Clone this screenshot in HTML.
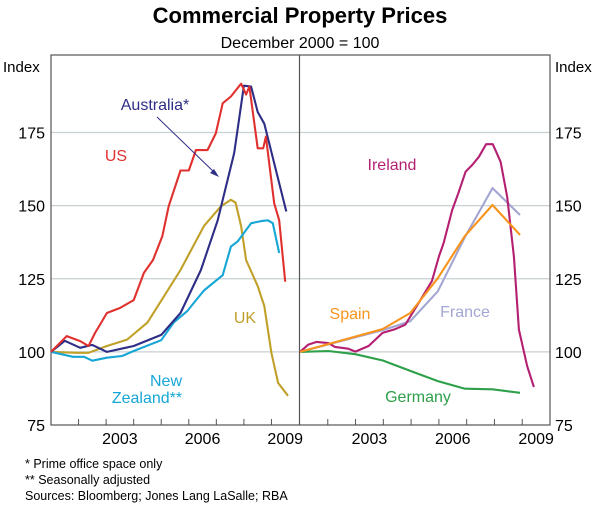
<!DOCTYPE html>
<html><head><meta charset="utf-8"><style>
body{margin:0;background:#fff;font-family:"Liberation Sans",Arial,sans-serif}
svg{display:block}
</style></head><body>
<svg id="chart" width="600" height="505" viewBox="0 0 600 505" font-family="Liberation Sans, Arial, sans-serif">
<text x="300" y="23" text-anchor="middle" font-size="22" font-weight="bold">Commercial Property Prices</text>
<text x="300" y="48" text-anchor="middle" font-size="16">December 2000 = 100</text>
<text x="3" y="72" font-size="15">Index</text>
<text x="555" y="72" font-size="15">Index</text>
<g id="grid"></g><g id="axes"></g><g id="series"></g>
<text x="155" y="110" text-anchor="middle" font-size="16" fill="#2e2e86">Australia*</text>
<line x1="157" y1="117" x2="216" y2="174" stroke="#2e2e86" stroke-width="1"/>
<polygon points="219,177 210,173 214,169" fill="#2e2e86"/>
<text x="116" y="161" text-anchor="middle" font-size="16" fill="#e0312f">US</text>
<text x="245" y="323" text-anchor="middle" font-size="16" fill="#c0a029">UK</text>
<text x="166" y="386" text-anchor="middle" font-size="16" fill="#16a6d6">New</text>
<text x="147" y="403" text-anchor="middle" font-size="16" fill="#16a6d6">Zealand**</text>
<text x="392" y="170" text-anchor="middle" font-size="16" fill="#b51f72">Ireland</text>
<text x="350" y="319" text-anchor="middle" font-size="16" fill="#f7941d">Spain</text>
<text x="465" y="317" text-anchor="middle" font-size="16" fill="#a3a6d2">France</text>
<text x="418" y="402" text-anchor="middle" font-size="16" fill="#2ea04a">Germany</text>
<text x="25" y="468" font-size="12.5">*   Prime office space only</text>
<text x="25" y="484" font-size="12.5">**  Seasonally adjusted</text>
<text x="25" y="500" font-size="12.5">Sources: Bloomberg; Jones Lang LaSalle; RBA</text>
</svg>
<script>
const yTicks=[75,100,125,150,175];
const xTickLabels=["2003","2006","2009"];
const xLabelYears=[2003,2006,2009];
const usYears=[2001,2001.57,2002.06,2002.36,2002.6,2003.03,2003.5,2004.0,2004.37,2004.7,2005.04,2005.27,2005.7,2006.0,2006.26,2006.68,2006.98,2007.23,2007.53,2007.9,2008.08,2008.2,2008.5,2008.7,2008.8,2009.1,2009.28,2009.5];
const usValues=[100,105.4,103.7,102,106.5,113.3,115,117.7,127,131.4,139.5,149.8,162,162,169,169,174.7,185,187.3,191.7,188,190.7,169.6,169.6,173.6,150.8,145,124];
const ausYears=[2001,2001.5,2002.06,2002.5,2003.03,2004,2005,2005.7,2006.44,2007.05,2007.65,2008.0,2008.26,2008.5,2008.74,2009.54];
const ausValues=[100,103.8,101.4,102.4,100,102,105.8,113.3,128,145,168,191,190.7,182,178,148];
const ukYears=[2001,2001.94,2002.36,2003.03,2003.76,2004.5,2005.1,2005.7,2006.55,2007.17,2007.53,2007.7,2007.9,2008.08,2008.5,2008.74,2009.0,2009.24,2009.6];
const ukValues=[100,99.7,99.7,102,104.2,110,119,128,143,149.8,152,151,143,131.4,122.5,115.7,99.7,89.4,85];
const nzYears=[2001,2001.8,2002.2,2002.5,2003.03,2003.58,2004.0,2005,2005.45,2005.95,2006.55,2007.23,2007.53,2007.78,2008.26,2008.63,2008.87,2009.05,2009.28];
const nzValues=[100,98.3,98.3,97,98,98.6,100.3,104,110,114,121,126.2,136,137.8,144,144.7,145,144,133.8];
const ieYears=[2001,2001.3,2001.6,2002.02,2002.26,2002.74,2002.99,2003.47,2003.97,2004.43,2004.79,2005.27,2005.75,2006.0,2006.17,2006.48,2006.7,2006.96,2007.2,2007.44,2007.7,2007.94,2008.22,2008.46,2008.7,2008.88,2009.18,2009.42];
const ieValues=[100,102.5,103.4,103,101.7,101.1,100.1,102,106.5,107.8,109.3,116.7,124.2,132.6,137.2,148.5,154.2,161.6,163.9,166.7,171,171,165,153,132.6,107.6,95.1,88];
const quarterlyYears=[2001,2003.97,2004.97,2005.96,2006.94,2007.93,2008.92];
const esValues=[100,107.8,113.3,125.2,139.7,150.2,140];
const frValues=[100,107.4,110.5,120.7,139.3,156,146.8];
const deYears=[2001,2002.02,2002.99,2003.97,2004.97,2005.96,2006.94,2007.93,2008.92];
const deValues=[100,100.3,99.2,97.1,93.5,90,87.4,87.2,86];

const NS="http://www.w3.org/2000/svg";
const T=55,B=425,VMIN=75,VMAX=201.5;
const L={x0:51,x1:299},R={x0:300,x1:550};
function y(v){return B-(v-VMIN)/(VMAX-VMIN)*(B-T);}
function xp(p,yr){return p.x0+(yr-2001)/9*(p.x1-p.x0);}
function el(tag,attrs,parent){const e=document.createElementNS(NS,tag);for(const k in attrs)e.setAttribute(k,attrs[k]);parent.appendChild(e);return e;}
const grid=document.getElementById('grid'),axes=document.getElementById('axes'),ser=document.getElementById('series');
yTicks.forEach(v=>{
  if(v>VMIN){const g=el('line',{x1:L.x0,x2:R.x1,y1:y(v),y2:y(v),stroke:'#c9d0d2','stroke-width':1.2},grid);
  
  }
  const t1=el('text',{x:45,y:y(v)+6,'text-anchor':'end','font-size':16},axes);t1.textContent=v;
  
  
  const t2=el('text',{x:555,y:y(v)+6,'font-size':16},axes);t2.textContent=v;
  
  
});
const fr=el('rect',{x:L.x0,y:T,width:R.x1-L.x0,height:B-T,fill:'none',stroke:'#555','stroke-width':1.2},axes);


const dv=el('line',{x1:299.5,x2:299.5,y1:T,y2:B,stroke:'#555','stroke-width':1.2},axes);


[L,R].forEach((p,pi)=>{
  for(let i=1;i<9;i++){const xx=xp(p,2001+i);const tk=el('line',{x1:xx,x2:xx,y1:B,y2:B-6,stroke:'#555','stroke-width':1},axes);
  
  }
  xLabelYears.forEach((yr,i)=>{const t=el('text',{x:xp(p,yr+0.5),y:444,'text-anchor':'middle','font-size':16},axes);t.textContent=xTickLabels[i];
  
  });
});
function line(p,xs,vs,color,name){
  const d=xs.map((yr,i)=>(i?'L':'M')+xp(p,yr).toFixed(1)+','+y(vs[i]).toFixed(1)).join('');
  const e=el('path',{d:d,fill:'none',stroke:color,'stroke-width':2.1,'stroke-linejoin':'round'},ser);
  
  
}
line(L,ukYears,ukValues,'#c0a029','line-uk');
line(L,nzYears,nzValues,'#16a6d6','line-new-zealand');
line(L,ausYears,ausValues,'#2e2e86','line-australia');
line(L,usYears,usValues,'#e0312f','line-us');
line(R,deYears,deValues,'#2ea04a','line-germany');
line(R,quarterlyYears,frValues,'#a3a6d2','line-france');
line(R,ieYears,ieValues,'#b51f72','line-ireland');
line(R,quarterlyYears,esValues,'#f7941d','line-spain');
</script>
</body></html>
